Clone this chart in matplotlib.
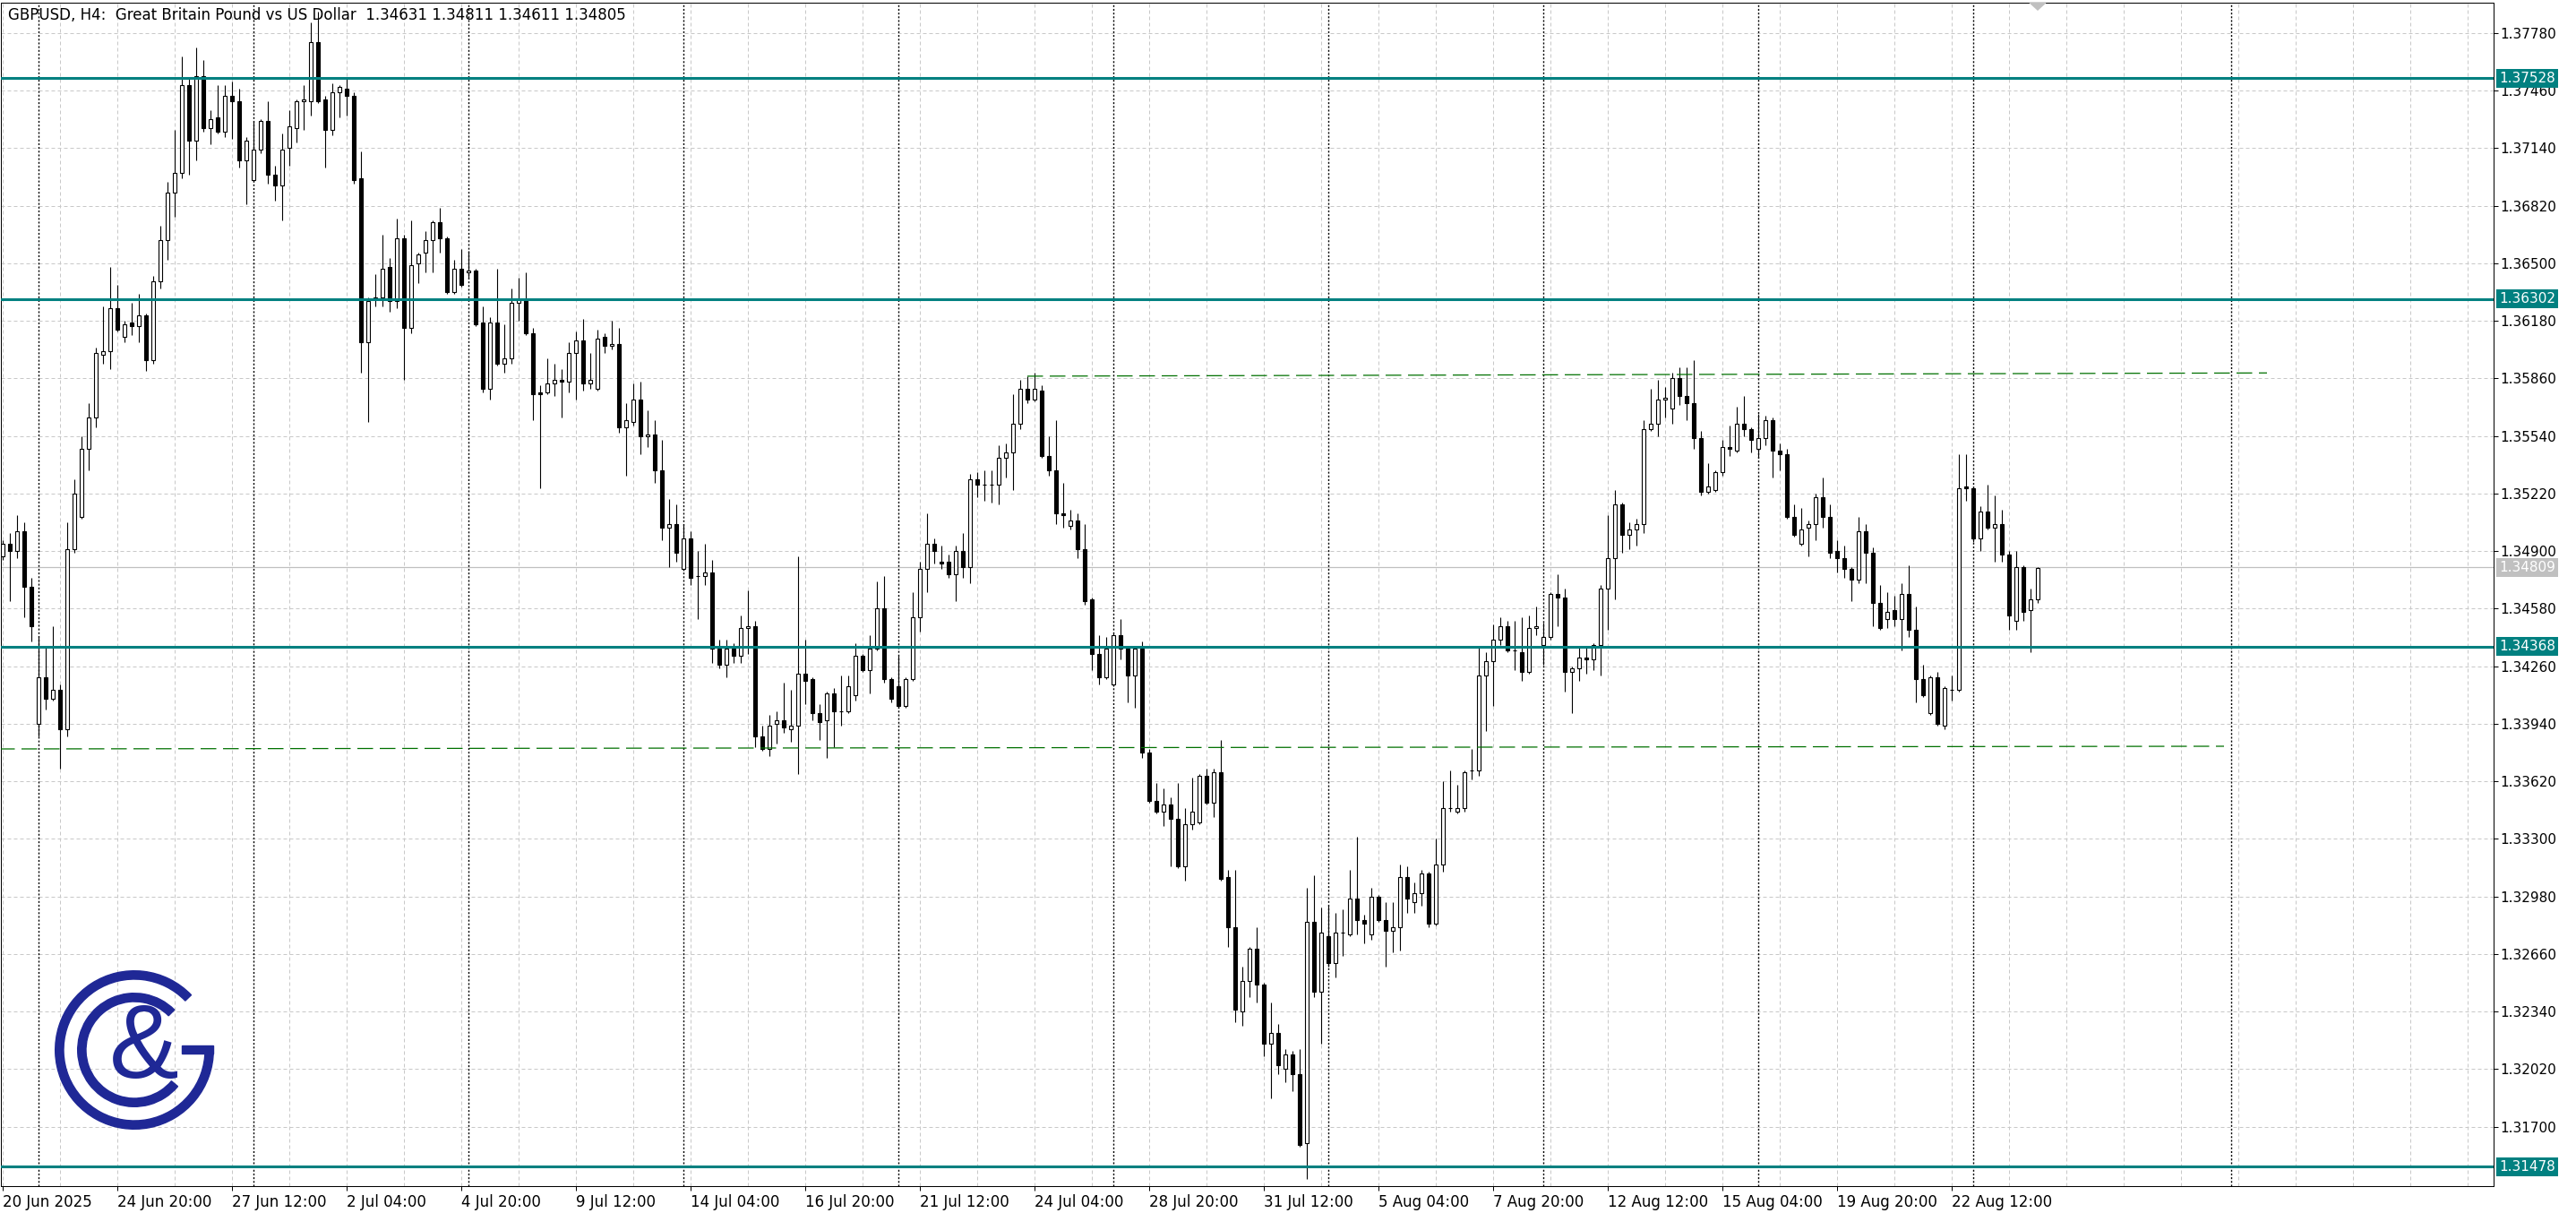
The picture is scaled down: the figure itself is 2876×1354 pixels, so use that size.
import numpy as np
import matplotlib
matplotlib.use("Agg")
import matplotlib.pyplot as plt
from matplotlib.patches import Wedge, Rectangle, Polygon

# GBPUSD H4 candles (bar 0 = 20 Jun 2025 04:00)
opens = [
    1.3487, 1.3494, 1.3490, 1.3501, 1.3470, 1.3394, 1.3420, 1.3408, 1.3413, 1.3391,
    1.3491, 1.3509, 1.3547, 1.3564, 1.3599, 1.3601, 1.3625, 1.3609, 1.3617, 1.3615,
    1.3621, 1.3596, 1.3640, 1.3663, 1.3689, 1.3700, 1.3749, 1.3718, 1.3754, 1.3725,
    1.3731, 1.3723, 1.3743, 1.3740, 1.3707, 1.3696, 1.3713, 1.3729, 1.3699, 1.3693,
    1.3714, 1.3725, 1.3740, 1.3740, 1.3773, 1.3741, 1.3724, 1.3745, 1.3747, 1.3743,
    1.3697, 1.3606, 1.3630, 1.3631, 1.3648, 1.3629, 1.3664, 1.3614, 1.3650, 1.3656,
    1.3663, 1.3673, 1.3664, 1.3634, 1.3647, 1.3645, 1.3646, 1.3617, 1.3580, 1.3617,
    1.3594, 1.3597, 1.3628, 1.3630, 1.3611, 1.3578, 1.3578, 1.3583, 1.3585, 1.3584,
    1.3600, 1.3607, 1.3583, 1.3580, 1.3609, 1.3604, 1.3605, 1.3559, 1.3562, 1.3574,
    1.3554, 1.3555, 1.3535, 1.3503, 1.3505, 1.3480, 1.3497, 1.3476, 1.3476, 1.3478,
    1.3436, 1.3427, 1.3436, 1.3432, 1.3447, 1.3448, 1.3387, 1.3380, 1.3394, 1.3396,
    1.3391, 1.3393, 1.3422, 1.3419, 1.3400, 1.3396, 1.3411, 1.3401, 1.3401, 1.3410,
    1.3432, 1.3424, 1.3436, 1.3458, 1.3419, 1.3415, 1.3404, 1.3419, 1.3453, 1.3480,
    1.3494, 1.3484, 1.3484, 1.3477, 1.3490, 1.3481, 1.3530, 1.3527, 1.3527, 1.3527,
    1.3542, 1.3545, 1.3561, 1.3580, 1.3574, 1.3579, 1.3543, 1.3535, 1.3511, 1.3504,
    1.3507, 1.3491, 1.3463, 1.3433, 1.3420, 1.3416, 1.3443, 1.3436, 1.3421, 1.3436,
    1.3378, 1.3351, 1.3345, 1.3349, 1.3341, 1.3315, 1.3338, 1.3339, 1.3365, 1.3350,
    1.3367, 1.3309, 1.3281, 1.3234, 1.3251, 1.3269, 1.3249, 1.3216, 1.3222, 1.3202,
    1.3210, 1.3199, 1.3161, 1.3284, 1.3245, 1.3276, 1.3261, 1.3278, 1.3277, 1.3297,
    1.3285, 1.3277, 1.3298, 1.3285, 1.3279, 1.3281, 1.3309, 1.3295, 1.3300, 1.3311,
    1.3283, 1.3316, 1.3347, 1.3345, 1.3347, 1.3368, 1.3368, 1.3421, 1.3429, 1.3441,
    1.3448, 1.3435, 1.3434, 1.3423, 1.3447, 1.3438, 1.3442, 1.3466, 1.3464, 1.3423,
    1.3425, 1.3431, 1.3430, 1.3438, 1.3469, 1.3486, 1.3516, 1.3499, 1.3502, 1.3505,
    1.3558, 1.3561, 1.3574, 1.3569, 1.3586, 1.3576, 1.3572, 1.3553, 1.3523, 1.3524,
    1.3534, 1.3548, 1.3546, 1.3561, 1.3558, 1.3547, 1.3553, 1.3563, 1.3546, 1.3544,
    1.3509, 1.3494, 1.3503, 1.3505, 1.3520, 1.3509, 1.3490, 1.3486, 1.3480, 1.3474,
    1.3501, 1.3489, 1.3461, 1.3452, 1.3457, 1.3452, 1.3466, 1.3446, 1.3419, 1.3400,
    1.3420, 1.3393, 1.3413, 1.3413, 1.3526, 1.3525, 1.3497, 1.3512, 1.3503, 1.3505,
    1.3488, 1.3451, 1.3481, 1.3457, 1.34631,
]
highs = [
    1.3496, 1.3500, 1.3510, 1.3506, 1.3475, 1.3442, 1.3437, 1.3448, 1.3416, 1.3506,
    1.3530, 1.3554, 1.3572, 1.3603, 1.3626, 1.3648, 1.3638, 1.3618, 1.3628, 1.3633,
    1.3622, 1.3643, 1.3671, 1.3695, 1.3724, 1.3765, 1.3753, 1.3770, 1.3763, 1.3735,
    1.3749, 1.3749, 1.3751, 1.3747, 1.3720, 1.3729, 1.3730, 1.3740, 1.3704, 1.3722,
    1.3735, 1.3741, 1.3749, 1.3784, 1.3790, 1.3743, 1.3750, 1.3749, 1.3753, 1.3745,
    1.3712, 1.3631, 1.3644, 1.3666, 1.3653, 1.3675, 1.3666, 1.3674, 1.3656, 1.3668,
    1.3674, 1.3681, 1.3665, 1.3652, 1.3658, 1.3657, 1.3647, 1.3626, 1.3620, 1.3647,
    1.3616, 1.3636, 1.3642, 1.3645, 1.3614, 1.3582, 1.3597, 1.3594, 1.3591, 1.3606,
    1.3612, 1.3619, 1.3600, 1.3613, 1.3611, 1.3618, 1.3614, 1.3572, 1.3583, 1.3584,
    1.3568, 1.3563, 1.3552, 1.3519, 1.3516, 1.3505, 1.3501, 1.3490, 1.3494, 1.3485,
    1.3441, 1.3441, 1.3439, 1.3454, 1.3468, 1.3451, 1.3393, 1.3399, 1.3401, 1.3417,
    1.3413, 1.3487, 1.3441, 1.3420, 1.3405, 1.3412, 1.3414, 1.3421, 1.3421, 1.3439,
    1.3433, 1.3443, 1.3473, 1.3476, 1.3420, 1.3432, 1.3420, 1.3467, 1.3484, 1.3511,
    1.3497, 1.3493, 1.3488, 1.3493, 1.3500, 1.3533, 1.3534, 1.3535, 1.3535, 1.3549,
    1.3550, 1.3577, 1.3585, 1.3587, 1.3589, 1.3582, 1.3554, 1.3563, 1.3528, 1.3513,
    1.3511, 1.3505, 1.3464, 1.3443, 1.3442, 1.3444, 1.3452, 1.3437, 1.3437, 1.3440,
    1.3380, 1.3361, 1.3358, 1.3353, 1.3361, 1.3347, 1.3364, 1.3366, 1.3369, 1.3369,
    1.3385, 1.3313, 1.3313, 1.3259, 1.3270, 1.3281, 1.3250, 1.3239, 1.3227, 1.3213,
    1.3212, 1.3213, 1.3303, 1.3310, 1.3292, 1.3293, 1.3289, 1.3291, 1.3313, 1.3331,
    1.3288, 1.3303, 1.3299, 1.3295, 1.3295, 1.3316, 1.3315, 1.3306, 1.3313, 1.3312,
    1.3330, 1.3362, 1.3368, 1.3360, 1.3368, 1.3380, 1.3437, 1.3434, 1.3449, 1.3453,
    1.3451, 1.3451, 1.3453, 1.3454, 1.3459, 1.3450, 1.3467, 1.3477, 1.3469, 1.3426,
    1.3437, 1.3437, 1.3439, 1.3471, 1.3510, 1.3524, 1.3517, 1.3506, 1.3508, 1.3563,
    1.3580, 1.3585, 1.3581, 1.3589, 1.3592, 1.3592, 1.3596, 1.3557, 1.3539, 1.3535,
    1.3552, 1.3560, 1.3570, 1.3576, 1.3559, 1.3566, 1.3565, 1.3564, 1.3550, 1.3547,
    1.3516, 1.3514, 1.3507, 1.3522, 1.3531, 1.3516, 1.3496, 1.3493, 1.3481, 1.3509,
    1.3505, 1.3492, 1.3471, 1.3467, 1.3465, 1.3472, 1.3482, 1.3459, 1.3427, 1.3421,
    1.3423, 1.3415, 1.3421, 1.3544, 1.3544, 1.3526, 1.3515, 1.3527, 1.3521, 1.3513,
    1.3490, 1.3490, 1.3482, 1.3469, 1.34811,
]
lows = [
    1.3485, 1.3462, 1.3486, 1.3453, 1.3440, 1.3387, 1.3402, 1.3407, 1.3369, 1.3387,
    1.3489, 1.3508, 1.3535, 1.3559, 1.3594, 1.3591, 1.3612, 1.3606, 1.3610, 1.3606,
    1.3590, 1.3594, 1.3636, 1.3652, 1.3676, 1.3697, 1.3699, 1.3707, 1.3723, 1.3716,
    1.3722, 1.3720, 1.3719, 1.3703, 1.3683, 1.3695, 1.3711, 1.3694, 1.3685, 1.3674,
    1.3704, 1.3717, 1.3724, 1.3732, 1.3739, 1.3703, 1.3721, 1.3731, 1.3732, 1.3694,
    1.3589, 1.3562, 1.3626, 1.3626, 1.3623, 1.3625, 1.3585, 1.3611, 1.3639, 1.3645,
    1.3645, 1.3656, 1.3633, 1.3633, 1.3637, 1.3642, 1.3615, 1.3578, 1.3574, 1.3593,
    1.3589, 1.3594, 1.3618, 1.3610, 1.3563, 1.3525, 1.3577, 1.3576, 1.3564, 1.3578,
    1.3574, 1.3579, 1.3580, 1.3579, 1.3600, 1.3602, 1.3556, 1.3532, 1.3560, 1.3544,
    1.3548, 1.3528, 1.3496, 1.3481, 1.3484, 1.3479, 1.3471, 1.3452, 1.3471, 1.3428,
    1.3425, 1.3420, 1.3428, 1.3428, 1.3433, 1.3381, 1.3379, 1.3376, 1.3383, 1.3389,
    1.3384, 1.3366, 1.3405, 1.3396, 1.3385, 1.3375, 1.3381, 1.3393, 1.3400, 1.3407,
    1.3423, 1.3411, 1.3435, 1.3417, 1.3406, 1.3403, 1.3403, 1.3418, 1.3445, 1.3467,
    1.3483, 1.3480, 1.3475, 1.3462, 1.3475, 1.3472, 1.3520, 1.3518, 1.3517, 1.3516,
    1.3531, 1.3524, 1.3558, 1.3572, 1.3573, 1.3542, 1.3532, 1.3505, 1.3503, 1.3502,
    1.3486, 1.3460, 1.3424, 1.3416, 1.3419, 1.3415, 1.3430, 1.3406, 1.3403, 1.3375,
    1.3350, 1.3344, 1.3337, 1.3315, 1.3314, 1.3307, 1.3335, 1.3338, 1.3349, 1.3342,
    1.3307, 1.3270, 1.3228, 1.3226, 1.3242, 1.3239, 1.3209, 1.3186, 1.3199, 1.3195,
    1.3190, 1.3159, 1.3141, 1.3242, 1.3216, 1.3259, 1.3253, 1.3265, 1.3276, 1.3277,
    1.3272, 1.3274, 1.3284, 1.3259, 1.3267, 1.3268, 1.3289, 1.3289, 1.3293, 1.3281,
    1.3282, 1.3312, 1.3345, 1.3344, 1.3345, 1.3363, 1.3365, 1.3390, 1.3404, 1.3438,
    1.3434, 1.3424, 1.3418, 1.3422, 1.3443, 1.3427, 1.3441, 1.3448, 1.3412, 1.3400,
    1.3418, 1.3422, 1.3424, 1.3421, 1.3446, 1.3463, 1.3489, 1.3491, 1.3493, 1.3500,
    1.3557, 1.3554, 1.3564, 1.3561, 1.3571, 1.3563, 1.3547, 1.3521, 1.3522, 1.3523,
    1.3532, 1.3543, 1.3545, 1.3554, 1.3545, 1.3542, 1.3549, 1.3531, 1.3535, 1.3508,
    1.3498, 1.3493, 1.3487, 1.3496, 1.3503, 1.3486, 1.3478, 1.3475, 1.3462, 1.3472,
    1.3472, 1.3448, 1.3446, 1.3447, 1.3448, 1.3435, 1.3442, 1.3406, 1.3409, 1.3399,
    1.3393, 1.3391, 1.3407, 1.3412, 1.3518, 1.3495, 1.3490, 1.3502, 1.3484, 1.3484,
    1.3446, 1.3446, 1.3451, 1.3434, 1.34611,
]
closes = [
    1.3494, 1.3490, 1.3501, 1.3470, 1.3448, 1.3420, 1.3408, 1.3413, 1.3391, 1.3491,
    1.3522, 1.3547, 1.3564, 1.3600, 1.3601, 1.3625, 1.3613, 1.3616, 1.3615, 1.3621,
    1.3596, 1.3640, 1.3663, 1.3689, 1.3700, 1.3749, 1.3718, 1.3754, 1.3725, 1.3730,
    1.3723, 1.3743, 1.3740, 1.3707, 1.3718, 1.3713, 1.3729, 1.3699, 1.3693, 1.3713,
    1.3726, 1.3740, 1.3741, 1.3773, 1.3740, 1.3724, 1.3745, 1.3748, 1.3743, 1.3696,
    1.3606, 1.3629, 1.3631, 1.3647, 1.3629, 1.3664, 1.3614, 1.3649, 1.3655, 1.3663,
    1.3673, 1.3664, 1.3634, 1.3647, 1.3638, 1.3646, 1.3616, 1.3580, 1.3617, 1.3594,
    1.3597, 1.3628, 1.3630, 1.3611, 1.3577, 1.3577, 1.3583, 1.3585, 1.3584, 1.3600,
    1.3607, 1.3583, 1.3585, 1.3608, 1.3604, 1.3605, 1.3559, 1.3563, 1.3574, 1.3554,
    1.3555, 1.3535, 1.3503, 1.3505, 1.3489, 1.3497, 1.3475, 1.3476, 1.3478, 1.3436,
    1.3427, 1.3436, 1.3432, 1.3447, 1.3448, 1.3387, 1.3380, 1.3393, 1.3396, 1.3392,
    1.3393, 1.3422, 1.3418, 1.3400, 1.3395, 1.3411, 1.3401, 1.3401, 1.3415, 1.3432,
    1.3424, 1.3436, 1.3458, 1.3419, 1.3408, 1.3404, 1.3419, 1.3453, 1.3480, 1.3494,
    1.3490, 1.3483, 1.3477, 1.3490, 1.3481, 1.3530, 1.3527, 1.3527, 1.3527, 1.3542,
    1.3545, 1.3561, 1.3580, 1.3574, 1.3580, 1.3543, 1.3535, 1.3511, 1.3510, 1.3507,
    1.3491, 1.3462, 1.3433, 1.3420, 1.3436, 1.3443, 1.3436, 1.3421, 1.3436, 1.3378,
    1.3351, 1.3345, 1.3349, 1.3341, 1.3315, 1.3338, 1.3345, 1.3365, 1.3350, 1.3367,
    1.3308, 1.3281, 1.3235, 1.3251, 1.3269, 1.3249, 1.3216, 1.3222, 1.3204, 1.3210,
    1.3199, 1.3160, 1.3284, 1.3245, 1.3278, 1.3261, 1.3278, 1.3278, 1.3297, 1.3285,
    1.3283, 1.3298, 1.3285, 1.3279, 1.3281, 1.3309, 1.3297, 1.3300, 1.3311, 1.3283,
    1.3316, 1.3347, 1.3347, 1.3347, 1.3367, 1.3368, 1.3421, 1.3429, 1.3441, 1.3448,
    1.3435, 1.3435, 1.3423, 1.3447, 1.3448, 1.3442, 1.3466, 1.3464, 1.3423, 1.3425,
    1.3431, 1.3430, 1.3438, 1.3469, 1.3486, 1.3516, 1.3499, 1.3502, 1.3505, 1.3558,
    1.3561, 1.3574, 1.3575, 1.3586, 1.3576, 1.3572, 1.3553, 1.3523, 1.3526, 1.3534,
    1.3548, 1.3547, 1.3561, 1.3558, 1.3552, 1.3553, 1.3563, 1.3546, 1.3544, 1.3509,
    1.3499, 1.3502, 1.3505, 1.3520, 1.3509, 1.3489, 1.3486, 1.3480, 1.3474, 1.3501,
    1.3489, 1.3461, 1.3447, 1.3456, 1.3452, 1.3466, 1.3446, 1.3419, 1.3410, 1.3420,
    1.3394, 1.3414, 1.3413, 1.3525, 1.3525, 1.3497, 1.3512, 1.3503, 1.3505, 1.3488,
    1.3454, 1.3481, 1.3456, 1.3463, 1.34805,
]

date_labels = ["20 Jun 2025", "24 Jun 20:00", "27 Jun 12:00", "2 Jul 04:00",
               "4 Jul 20:00", "9 Jul 12:00", "14 Jul 04:00", "16 Jul 20:00",
               "21 Jul 12:00", "24 Jul 04:00", "28 Jul 20:00", "31 Jul 12:00",
               "5 Aug 04:00", "7 Aug 20:00", "12 Aug 12:00", "15 Aug 04:00",
               "19 Aug 20:00", "22 Aug 12:00"]
price_ticks = [1.31700, 1.32020, 1.32340, 1.32660, 1.32980, 1.33300, 1.33620,
               1.33940, 1.34260, 1.34580, 1.34900, 1.35220, 1.35540, 1.35860,
               1.36180, 1.36500, 1.36820, 1.37140, 1.37460, 1.37780]
week_starts = [5, 35, 65, 95, 125, 155, 185, 215, 245, 275, 311]
levels = [1.37528, 1.36302, 1.34368, 1.31478]
ask_price = 1.34809
upper_x, upper_y = [143, 316], [1.35872, 1.35890]
lower_x, lower_y = [-1, 310], [1.33800, 1.33815]
title = "GBPUSD, H4:  Great Britain Pound vs US Dollar  1.34631 1.34811 1.34611 1.34805"

TEAL = "#008080"
NAVY = "#1f2896"
W, H = 2876, 1354

fig = plt.figure(figsize=(W / 100, H / 100), dpi=100)
fig.patch.set_facecolor("white")
ax = fig.add_axes([1 / W, 30 / H, 2783 / W, 1321 / H])
ax.set_xlim(-0.25, 347.625)
ax.set_ylim(1.31370, 1.37948)

# grid
for gx in range(0, 348, 8):
    ax.axvline(gx, color="#c8c8c8", lw=0.72, ls=(0, (4, 3)), zorder=0)
for p in price_ticks:
    ax.axhline(p, color="#c8c8c8", lw=0.72, ls=(0, (4, 3)), zorder=0)
for wx in week_starts:
    ax.axvline(wx, color="black", lw=1.0, ls=(0, (1.5, 1.5)), zorder=1)

ax.axhline(ask_price, color="#c0c0c0", lw=0.9, zorder=1)

# candles
x = np.arange(len(closes))
o = np.array(opens)
c = np.array(closes)
faces = ["white" if cc >= oo else "black" for oo, cc in zip(o, c)]
ax.vlines(x, lows, highs, color="black", lw=0.8, zorder=2)
ax.bar(x, c - o, bottom=o, width=0.5, color=faces, edgecolor="black",
       linewidth=0.8, zorder=3)

# levels and trend lines
for lv in levels:
    ax.axhline(lv, color=TEAL, lw=2.2, zorder=5)
ax.plot(upper_x, upper_y, color="#007000", lw=0.9, ls=(0, (14, 6)), zorder=4)
ax.plot(lower_x, lower_y, color="#007000", lw=0.9, ls=(0, (14, 6)), zorder=4)

# chart shift marker
last = len(closes) - 1
top = ax.get_ylim()[1]
ax.add_patch(Polygon([[last - 1.1, top], [last + 1.1, top], [last, top - 0.0004]],
                     closed=True, color="#c0c0c0", zorder=6, clip_on=False))

# axes styling
for s in ax.spines.values():
    s.set_color("black")
    s.set_linewidth(0.72)
ax.yaxis.tick_right()
ax.set_yticks(price_ticks)
ax.set_yticklabels([f"{p:.5f}" for p in price_ticks])
ax.tick_params(axis="y", direction="out", length=3.6, width=0.72, pad=2,
               labelsize=11, colors="black")
ax.set_xticks(range(0, 16 * len(date_labels), 16))
ax.set_xticklabels(date_labels)
ax.tick_params(axis="x", direction="out", length=3.6, width=0.72, pad=3,
               labelsize=12, colors="black")
for lbl in ax.get_xticklabels():
    lbl.set_horizontalalignment("left")

ax.text(8 / 2783, 1 - 5 / 1321, title, transform=ax.transAxes, ha="left",
        va="top", fontsize=12, color="black", zorder=7)

# price labels on the right axis
for lv in levels:
    ax.annotate(f"{lv:.5f}", xy=(1, lv), xycoords=ax.get_yaxis_transform(),
                xytext=(4.5, 0), textcoords="offset points", ha="left",
                va="center", color="white", fontsize=11, annotation_clip=False,
                bbox=dict(boxstyle="square,pad=0.2", fc=TEAL, ec="none"),
                zorder=10)
ax.annotate(f"{ask_price:.5f}", xy=(1, ask_price), xycoords=ax.get_yaxis_transform(),
            xytext=(4.5, 0), textcoords="offset points", ha="left", va="center",
            color="white", fontsize=11, annotation_clip=False,
            bbox=dict(boxstyle="square,pad=0.2", fc="#c0c0c0", ec="none"),
            zorder=10)

# logo
lax = fig.add_axes([50 / W, (H - 1272) / H, 200 / W, 200 / H])
lax.set_xlim(-100, 100)
lax.set_ylim(-100, 100)
lax.axis("off")
lax.add_patch(Wedge((0, 0), 88.3, 44, 360, width=9.3, color=NAVY))
lax.add_patch(Rectangle((53.3, -4.0), 35.0, 9.3, color=NAVY))
lax.add_patch(Wedge((0, 0), 63.3, 45, 320, width=9.3, color=NAVY))
lax.text(11, 0, "&", fontsize=84, family="Liberation Sans", color=NAVY,
         ha="center", va="center")

fig.savefig("out.png", dpi=100, facecolor="white")
